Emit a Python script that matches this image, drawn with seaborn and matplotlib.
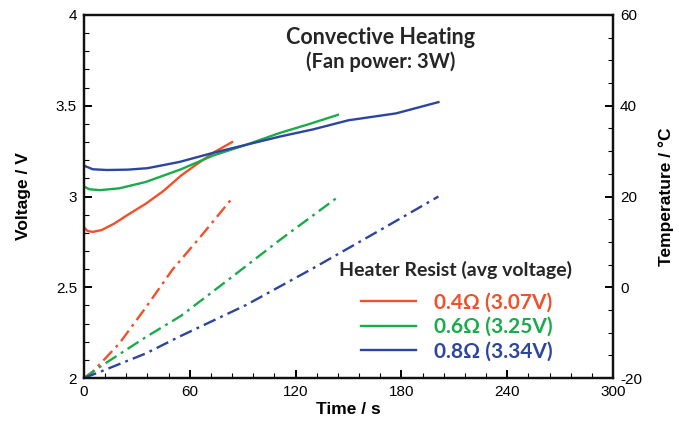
import numpy as np
import pandas as pd
import matplotlib
matplotlib.use("Agg")
import matplotlib.pyplot as plt
from matplotlib.ticker import MultipleLocator, FuncFormatter
import seaborn as sns

# ---- data ----
t_red_v = [0, 2, 5, 10, 17, 25, 35, 45, 55, 65, 74, 84]
v_red = [2.83, 2.81, 2.805, 2.815, 2.85, 2.90, 2.96, 3.03, 3.115, 3.185, 3.245, 3.30]

t_green_v = [0, 3, 9, 20, 35, 55, 73, 92, 111, 128, 144]
v_green = [3.055, 3.04, 3.035, 3.045, 3.08, 3.15, 3.225, 3.285, 3.35, 3.40, 3.45]

t_blue_v = [0, 5, 13, 25, 36, 54, 73, 92, 111, 130, 150, 177, 201]
v_blue = [3.17, 3.15, 3.146, 3.148, 3.156, 3.19, 3.24, 3.285, 3.33, 3.37, 3.42, 3.458, 3.52]

t_red_T = [0, 5, 20, 35, 50, 66, 84]
T_red = [-20, -18.6, -12.4, -4.5, 3.8, 11.1, 19.6]

t_green_T = [0, 10, 35, 55, 83, 111, 143]
T_green = [-20, -17.3, -11.0, -6.3, 2.0, 10.4, 19.6]

t_blue_T = [0, 10, 35, 54, 92, 130, 168, 201]
T_blue = [-20, -18.5, -14.6, -10.9, -3.9, 4.2, 12.6, 20.0]

labels = ["0.4\u03a9 (3.07V)", "0.6\u03a9 (3.25V)", "0.8\u03a9 (3.34V)"]
colors = ["#f0502a", "#1aab4b", "#2d45a0"]

plt.rcParams["font.family"] = ["Liberation Sans", "DejaVu Sans"]

# ---- figure ----
fig = plt.figure(figsize=(6.79, 4.29), dpi=100)
ax = fig.add_axes([84/679, 1-378/429, (613-84)/679, (378-15)/429])
ax2 = ax.twinx()

cal = ["Lato", "Liberation Serif", "DejaVu Sans"]

vol_sets = [(t_red_v, v_red), (t_green_v, v_green), (t_blue_v, v_blue)]
tmp_sets = [(t_red_T, T_red), (t_green_T, T_green), (t_blue_T, T_blue)]

handles = []
for (tv, vv), c in zip(vol_sets, colors):
    df = pd.DataFrame({"t": tv, "v": vv})
    sns.lineplot(data=df, x="t", y="v", ax=ax, color=c, lw=1.7, sort=False)
    handles.append(ax.lines[-1])

for (tt, TT), c in zip(tmp_sets, colors):
    df = pd.DataFrame({"t": tt, "T": TT})
    sns.lineplot(data=df, x="t", y="T", ax=ax2, color=c, lw=1.7, sort=False)
    ax2.lines[-1].set_linestyle((0, (5.5, 2.2, 1.2, 2.2)))

ax.set_xlim(0, 300)
ax.set_ylim(2, 4)
ax2.set_ylim(-20, 60)

fmt = FuncFormatter(lambda v, p: f"{v:g}")
ax.xaxis.set_major_locator(MultipleLocator(60))
ax.xaxis.set_minor_locator(MultipleLocator(12))
ax.yaxis.set_major_locator(MultipleLocator(0.5))
ax.yaxis.set_minor_locator(MultipleLocator(0.1))
ax2.yaxis.set_major_locator(MultipleLocator(20))
ax2.yaxis.set_minor_locator(MultipleLocator(5))
ax.xaxis.set_major_formatter(fmt)
ax.yaxis.set_major_formatter(fmt)
ax2.yaxis.set_major_formatter(fmt)

for a in (ax, ax2):
    for s in a.spines.values():
        s.set_linewidth(1.6)
        s.set_color("#111111")
ax.tick_params(which="major", direction="in", length=6, width=1.4, labelsize=11, pad=5)
ax.tick_params(which="minor", direction="in", length=3.5, width=0.8)
ax.tick_params(axis="both", top=False, right=False)
ax2.tick_params(which="major", direction="in", length=6, width=1.4, labelsize=11, pad=5)
ax2.tick_params(which="minor", direction="in", length=3.5, width=0.8)

ax.set_xlabel("Time / s", fontsize=12.5, fontweight="bold", labelpad=2)
ax.set_ylabel("Voltage / V", fontsize=12.5, fontweight="bold", labelpad=18)
ax2.set_ylabel("Temperature / \u00b0C", fontsize=12.5, fontweight="bold", labelpad=12)

fig.text(381/679, 1-38/429, "Convective Heating", ha="center", va="center",
         fontsize=15.5, fontweight="bold", family=cal, color="#262626")
fig.text(381/679, 1-62/429, "(Fan power: 3W)", ha="center", va="center",
         fontsize=14.5, fontweight="bold", family=cal, color="#262626")

fig.text(456/679, 1-270/429, "Heater Resist (avg voltage)", ha="center", va="center",
         fontsize=14, fontweight="bold", family=cal, color="#262626")

leg = ax.legend(handles=handles, labels=labels,
                loc="center", bbox_to_anchor=(457/679, 1-327/429),
                bbox_transform=fig.transFigure, frameon=False,
                labelcolor="linecolor", handlelength=2.65, handletextpad=0.85,
                labelspacing=0.22, borderpad=0,
                prop={"family": cal, "weight": "bold", "size": 15})
for h in leg.legend_handles:
    h.set_linewidth(1.7)

fig.savefig("out.png", dpi=100)
